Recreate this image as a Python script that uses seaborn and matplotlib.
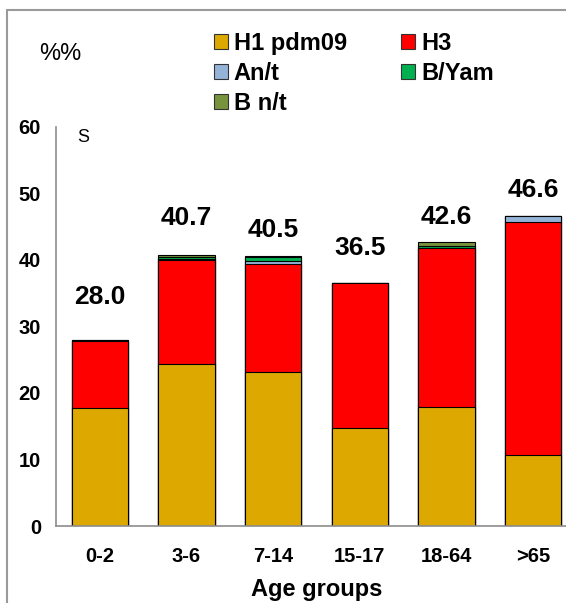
import matplotlib
matplotlib.use("Agg")
import matplotlib.pyplot as plt
import seaborn as sns
import numpy as np
import pandas as pd
from matplotlib.patches import Patch
from matplotlib.lines import Line2D

# ---- data ----
age_groups = ["0-2", "3-6", "7-14", "15-17", "18-64", ">65"]
h1_pdm09 = [17.8, 24.3, 23.2, 14.8, 17.9, 10.6]
h3 = [10.0, 15.7, 16.2, 21.7, 23.8, 35.1]
an_t = [0.0, 0.1, 0.4, 0.0, 0.1, 0.9]
b_yam = [0.1, 0.3, 0.6, 0.0, 0.3, 0.0]
b_nt = [0.1, 0.3, 0.1, 0.0, 0.5, 0.0]
totals = [28.0, 40.7, 40.5, 36.5, 42.6, 46.6]
label_offsets = [6.4, 5.6, 4.0, 5.3, 3.8, 3.9]

series_names = ["H1 pdm09", "H3", "An/t", "B/Yam", "B n/t"]
series_colors = ["#DDA900", "#FF0000", "#95B3D7", "#00B050", "#77933C"]

sns.set_style("white")
plt.rcParams["font.family"] = ["Liberation Sans", "DejaVu Sans"]
plt.rcParams["text.color"] = "black"
plt.rcParams["xtick.color"] = "black"
plt.rcParams["ytick.color"] = "black"
plt.rcParams["axes.labelcolor"] = "black"

fig = plt.figure(figsize=(5.66, 6.03), dpi=100)
ax = fig.add_axes([56.4 / 566, 1 - 526 / 603, 520 / 566, 399.3 / 603])

layers = [h1_pdm09, h3, an_t, b_yam, b_nt]
cum = np.cumsum(np.array(layers), axis=0)
df = pd.DataFrame({"age": age_groups})
# draw from the top of the stack down so lower layers overlay
for i in range(len(layers) - 1, -1, -1):
    df["val"] = cum[i]
    sns.barplot(data=df, x="age", y="val", color=series_colors[i], ax=ax,
                width=0.65, edgecolor="black", linewidth=0.8,
                saturation=1, order=age_groups)

for i, (t, off) in enumerate(zip(totals, label_offsets)):
    ax.text(i, t + off, f"{t:.1f}", ha="center", va="center",
            fontsize=19, fontweight="bold", color="black")

ax.set_xlim(-0.5, 5.5)
ax.set_ylim(0, 60)
ax.set_yticks(range(0, 61, 10))
ax.set_ylabel("")
ax.set_xlabel("Age groups", fontsize=17, fontweight="bold", labelpad=9)
for s in ["top", "right"]:
    ax.spines[s].set_visible(False)
for s in ["left", "bottom"]:
    ax.spines[s].set_color("#8c8c8c")
    ax.spines[s].set_linewidth(1.2)
ax.tick_params(axis="both", direction="out", length=5, width=1.2,
               color="#8c8c8c", labelcolor="black", labelsize=14.5)
ax.tick_params(axis="y", pad=6)
ax.set_xticks([i - 0.5 for i in range(6)], minor=True)
ax.tick_params(axis="x", which="major", length=0, pad=15)
ax.tick_params(axis="x", which="minor", length=5, width=1.2, color="#8c8c8c")
for lbl in ax.get_xticklabels() + ax.get_yticklabels():
    lbl.set_fontweight("bold")

handles = [Patch(facecolor=c, edgecolor="#333333", linewidth=0.8, label=n)
           for n, c in zip(series_names, series_colors)]
# legend fills column-first; reorder so rows read H1/H3, An/t/B-Yam, B n/t
order = [0, 2, 4, 1, 3]
fig.legend(handles=[handles[k] for k in order], loc="upper left",
           bbox_to_anchor=(202 / 566, 1 - 20 / 603),
           ncol=2, frameon=False, prop={"size": 17, "weight": "bold"},
           handlelength=0.6, handleheight=0.6, handletextpad=0.25,
           labelspacing=0.3, columnspacing=2.3, borderpad=0)

fig.text(60 / 566, 1 - 54 / 603, "%%", fontsize=17, ha="center", va="center")
fig.text(83 / 566, 1 - 137 / 603, "S", fontsize=13, ha="center", va="center")

fig.add_artist(Line2D([7 / 566, 1], [1 - 10 / 603, 1 - 10 / 603],
                      color="#9a9a9a", lw=1.5, transform=fig.transFigure))
fig.add_artist(Line2D([7 / 566, 7 / 566], [0, 1 - 10 / 603],
                      color="#9a9a9a", lw=1.5, transform=fig.transFigure))

fig.savefig("out.png", dpi=100)
